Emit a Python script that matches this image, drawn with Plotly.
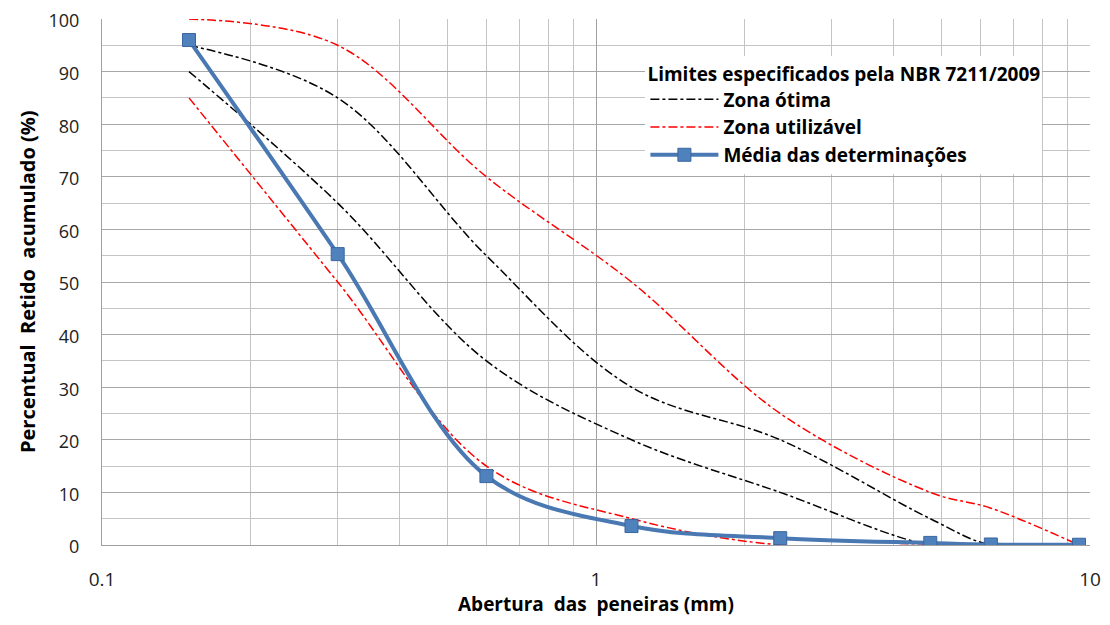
import plotly.graph_objects as go

sieves = [0.15, 0.3, 0.6, 1.18, 2.36, 4.75, 6.3, 9.5]
otima_sup = [95, 85, 55, 30, 20, 5, 0, 0]
otima_inf = [90, 65, 35, 20, 10, 0, 0, 0]
util_sup = [100, 95, 70, 50, 25, 10, 7, 0]
util_inf = [85, 50, 15, 5, 0, 0, 0, 0]
media = [96.0, 55.3, 13.1, 3.6, 1.3, 0.4, 0.1, 0.05]

x_title = "<b>Abertura  das  peneiras (mm)</b>"
y_title = "<b>Percentual  Retido  acumulado (%)</b>"

FONT = "'Open Sans', Lato, sans-serif"

fig = go.Figure()

def lim(y, color, name, group, show):
    fig.add_trace(go.Scatter(
        x=sieves, y=y, mode="lines", name=name, showlegend=show, legendgroup=group,
        line=dict(color=color, width=1.5, dash="dashdot", shape="spline", smoothing=1.0),
        hoverinfo="skip"))

lim(otima_sup, "#000000", "<b>Zona ótima</b>", "ot", True)
lim(otima_inf, "#000000", "<b>Zona ótima</b>", "ot", False)
lim(util_sup, "#FF0000", "<b>Zona utilizável</b>", "ut", True)
lim(util_inf, "#FF0000", "<b>Zona utilizável</b>", "ut", False)

fig.add_trace(go.Scatter(
    x=sieves, y=media, mode="lines+markers", name="<b>Média das determinações</b>",
    legendgroup="md",
    line=dict(color="#4A78B2", width=4, shape="spline", smoothing=1.0),
    marker=dict(symbol="square", size=13, color="#4F81BD", line=dict(color="#3A66A0", width=1))))

minor_x = [0.2, 0.3, 0.4, 0.5, 0.6, 0.7, 0.8, 0.9, 2, 3, 4, 5, 6, 7, 8, 9]

fig.update_layout(
    width=1094, height=609,
    margin=dict(l=94, r=12, t=11, b=72),
    paper_bgcolor="white", plot_bgcolor="white",
    font=dict(family=FONT, color="#222222"),
    legend=dict(
        title=dict(text="<b>Limites especificados pela NBR 7211/2009</b>", font=dict(size=19, color="#000")),
        x=0.55, y=0.93, xanchor="left", yanchor="top",
        bgcolor="white", borderwidth=0,
        font=dict(size=19, color="#000"),
        itemwidth=68, tracegroupgap=0,
    ),
    xaxis=dict(
        type="log", range=[-1, 1], automargin=False,
        tickvals=[0.1, 1, 10], ticktext=["0.1", "1", "10"],
        tickfont=dict(size=19, color="#222"),
        ticklabeloverflow="allow",
        showgrid=True, gridcolor="#A0A0A0", gridwidth=1,
        minor=dict(tickvals=minor_x, showgrid=True, gridcolor="#C4C4C4", gridwidth=1, ticks=""),
        showline=True, linecolor="#A0A0A0", linewidth=1,
        ticks="outside", ticklen=17, tickcolor="rgba(0,0,0,0)",
        zeroline=False,
    ),
    yaxis=dict(
        range=[0, 100], dtick=10, tick0=0, automargin=False,
        tickfont=dict(size=18, color="#222"),
        ticklabeloverflow="allow", ticklabelshift=2,
        showgrid=True, gridcolor="#A8A8A8", gridwidth=1,
        minor=dict(dtick=5, showgrid=True, gridcolor="#C4C4C4", gridwidth=1, ticks=""),
        showline=True, linecolor="#A0A0A0", linewidth=1,
        zeroline=False, ticks="outside", ticklen=18, tickcolor="rgba(0,0,0,0)",
    ),
    annotations=[
        dict(text=x_title, xref="paper", yref="paper", x=0.5, y=0,
             xanchor="center", yanchor="middle", yshift=-59, showarrow=False,
             font=dict(size=19, color="#000")),
        dict(text=y_title, xref="paper", yref="paper", x=0, y=0.5,
             xanchor="center", yanchor="middle", xshift=-75, textangle=-90, showarrow=False,
             font=dict(size=20, color="#000")),
    ],
)

fig.write_html("out.html")
